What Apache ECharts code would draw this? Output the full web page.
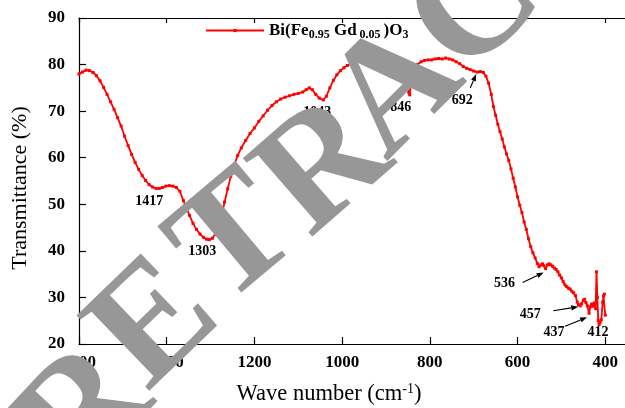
<!DOCTYPE html>
<html>
<head>
<meta charset="utf-8">
<script src="https://cdn.jsdelivr.net/npm/echarts@6/dist/echarts.min.js"></script>
<style>
  html, body { margin: 0; padding: 0; background: #fff; }
  #main { width: 625px; height: 408px; }
</style>
</head>
<body>
<div id="main"></div>
<script>
// FTIR spectrum of Bi(Fe0.95Gd0.05)O3
const wavenumber = [
  1600, 1592, 1584, 1576, 1568, 1560, 1552, 1544, 1536, 1528, 1520, 1512, 1504, 1496, 1488,
  1480, 1472, 1464, 1456, 1448, 1440, 1432, 1424, 1417, 1410, 1402, 1394, 1386, 1378, 1370,
  1362, 1355, 1348, 1340, 1332, 1324, 1316, 1309, 1303, 1296, 1289, 1282, 1275, 1268, 1261,
  1254, 1246, 1238, 1230, 1220, 1210, 1200, 1190, 1180, 1170, 1160, 1150, 1140, 1130, 1120,
  1110, 1100, 1090, 1082, 1075, 1068, 1060, 1052, 1043, 1036, 1028, 1020, 1012, 1004, 996,
  988, 980, 970, 960, 950, 940, 930, 920, 910, 900, 890, 880, 870, 862, 854,
  848, 846, 842, 836, 828, 820, 812, 804, 796, 788, 780, 772, 764, 756, 748,
  740, 732, 724, 716, 708, 700, 692, 685, 678, 672, 666, 660, 655, 650, 645,
  640, 635, 630, 625, 620, 615, 610, 605, 600, 595, 590, 585, 580, 575, 570,
  565, 560, 555, 551, 547, 543, 540, 536, 532, 528, 524, 520, 516, 512, 508,
  504, 500, 496, 492, 488, 484, 480, 476, 472, 468, 464, 461, 457, 454, 450,
  447, 444, 441, 437, 434, 431, 428, 425, 422, 420, 418, 416, 414, 412, 409,
  406, 404, 402, 400
];
const transmittance = [
  78.0, 78.4, 78.8, 78.7, 78.3, 77.6, 76.5, 75.1, 73.6, 72.0, 70.4, 68.6, 66.8, 64.6, 62.6,
  60.7, 59.0, 57.5, 56.2, 55.1, 54.2, 53.7, 53.4, 53.4, 53.6, 53.9, 54.0, 53.9, 53.6, 52.8,
  50.8, 49.2, 47.6, 45.9, 44.6, 43.6, 42.9, 42.5, 42.4, 42.7, 43.6, 45.2, 47.6, 50.5, 53.3,
  56.0, 58.5, 60.5, 62.1, 63.7, 65.2, 66.4, 67.8, 69.0, 70.2, 71.2, 72.0, 72.6, 73.0, 73.3,
  73.6, 73.8, 74.1, 74.6, 75.0, 74.6, 73.6, 72.8, 72.4, 73.2, 75.0, 76.6, 77.8, 78.7, 79.3,
  79.8, 80.2, 80.6, 80.8, 81.0, 81.1, 81.1, 81.2, 81.2, 81.1, 81.0, 81.0, 80.8, 80.4, 78.5,
  74.0, 73.5, 76.5, 79.2, 80.0, 80.6, 80.9, 81.0, 81.0, 81.2, 81.3, 81.2, 81.4, 81.2, 81.0,
  80.6, 80.2, 79.6, 79.2, 78.9, 78.6, 78.4, 78.5, 78.3, 77.5, 76.0, 73.6, 71.0, 69.1, 67.2,
  65.6, 64.0, 62.3, 60.8, 59.4, 57.6, 55.6, 53.7, 51.6, 49.8, 48.2, 46.2, 44.6, 42.6, 40.9,
  39.6, 38.5, 37.3, 36.6, 37.0, 37.2, 36.8, 36.2, 37.0, 37.2, 37.0, 36.7, 36.3, 36.0, 35.5,
  34.8, 34.2, 33.4, 32.7, 32.3, 32.0, 31.8, 31.3, 31.0, 30.4, 29.0, 28.4, 28.2, 28.6, 29.4,
  29.6, 28.9, 28.2, 26.6, 28.0, 28.6, 28.1, 28.8, 27.6, 35.5, 30.0, 25.0, 24.2, 24.6, 25.2,
  29.0, 30.3, 30.7, 26.2
];
const xTickValues = [400, 600, 800, 1000, 1200, 1400, 1600];
const peakWave = [1417, 1303, 1043, 846, 692, 536, 457, 437, 412];
const stampText = 'RETRACTED';

const serif = '"Liberation Serif", "Times New Roman", Times, serif';
const axisBlack = { color: '#000', width: 1.2 };

const option = {
  animation: false,
  backgroundColor: '#fff',
  grid: { left: 79, top: 18, width: 548, height: 326, containLabel: false },
  legend: {
    left: 205, top: 22, padding: 0,
    itemWidth: 58, itemHeight: 4,
    data: ['BGFO'],
    formatter: () => '{b|Bi(Fe}{s|0.95}{b| Gd}{s| 0.05 }{b|)O}{s|3}',
    textStyle: {
      rich: {
        b: { fontFamily: serif, fontWeight: 'bold', fontSize: 17, lineHeight: 20, color: '#000' },
        s: { fontFamily: serif, fontWeight: 'bold', fontSize: 12, lineHeight: 10, verticalAlign: 'bottom', color: '#000' }
      }
    }
  },
  xAxis: [
    {
      type: 'value', inverse: true, min: 355, max: 1600, position: 'bottom',
      axisLine: { show: true, onZero: false, lineStyle: axisBlack },
      axisTick: { show: true, inside: true, length: 7, customValues: xTickValues, lineStyle: axisBlack },
      axisLabel: {
        show: true, customValues: xTickValues, margin: 10,
        formatter: v => String(v),
        fontFamily: serif, fontWeight: 'bold', fontSize: 17, color: '#000'
      },
      splitLine: { show: false }
    },
    {
      type: 'value', inverse: true, min: 355, max: 1600, position: 'top',
      axisLine: { show: true, onZero: false, lineStyle: axisBlack },
      axisTick: { show: true, inside: true, length: 5, customValues: xTickValues, lineStyle: axisBlack },
      axisLabel: { show: false },
      splitLine: { show: false }
    }
  ],
  yAxis: {
    type: 'value', min: 20, max: 90, interval: 10,
    axisLine: { show: true, onZero: false, lineStyle: axisBlack },
    axisTick: { show: true, inside: true, length: 7, lineStyle: axisBlack },
    axisLabel: { margin: 14, fontFamily: serif, fontWeight: 'bold', fontSize: 17, color: '#000' },
    splitLine: { show: false }
  },
  series: [{
    name: 'BGFO',
    type: 'line',
    data: wavenumber.map((w, i) => [w, transmittance[i]]),
    showAllSymbol: true,
    symbol: 'rect',
    symbolSize: 3,
    color: '#ff0000',
    itemStyle: { color: '#ff0000' },
    lineStyle: { color: '#ff0000', width: 1.8 },
    z: 3
  }]
};

const chart = echarts.init(document.getElementById('main'), null, { renderer: 'canvas' });
chart.setOption(option);

// peak annotations placed relative to their points on the curve
const labelShift = {
  1417: [-10, 13], 1303: [-7, 12], 1043: [-6, 12], 846: [-9, 13], 692: [-15, 28],
  536: [-41, 15], 457: [-50, 9], 437: [-35, 19], 412: [-2, 10]
};
const arrowShift = {
  692: [[-7, 16], [-1, 2]],
  536: [[-23, 14], [-2, 4]],
  457: [[-27, 5], [-2, 1]],
  437: [[-24, 13], [-2, 4]]
};

const graphics = [];
peakWave.forEach(w => {
  const p = chart.convertToPixel({ seriesIndex: 0 }, [w, transmittance[wavenumber.indexOf(w)]]);
  const s = labelShift[w];
  graphics.push({
    type: 'text', x: p[0] + s[0], y: p[1] + s[1], z: 50,
    style: { text: String(w), fill: '#000', font: 'bold 14px ' + serif, align: 'center', verticalAlign: 'middle' }
  });
  const a = arrowShift[w];
  if (a) {
    const x1 = p[0] + a[0][0], y1 = p[1] + a[0][1];
    const x2 = p[0] + a[1][0], y2 = p[1] + a[1][1];
    const ang = Math.atan2(y2 - y1, x2 - x1);
    const L = 7, W = 2.6;
    const bx = x2 - L * Math.cos(ang), by = y2 - L * Math.sin(ang);
    graphics.push({
      type: 'line', z: 50,
      shape: { x1: x1, y1: y1, x2: bx, y2: by },
      style: { stroke: '#000', lineWidth: 1.1 }
    });
    graphics.push({
      type: 'polygon', z: 50,
      shape: { points: [
        [x2, y2],
        [bx - W * Math.sin(ang), by + W * Math.cos(ang)],
        [bx + W * Math.sin(ang), by - W * Math.cos(ang)]
      ] },
      style: { fill: '#000' }
    });
  }
});

// axis titles
graphics.push({
  type: 'text', x: 20, y: 188, rotation: Math.PI / 2, z: 50,
  style: { text: 'Transmittance (%)', font: '22px ' + serif, fill: '#000', align: 'center', verticalAlign: 'middle' }
});
graphics.push({
  type: 'text', x: 329, y: 394, z: 50,
  style: {
    text: '{n|Wave number (cm}{u|-1}{n|)}',
    align: 'center', verticalAlign: 'middle',
    rich: {
      n: { fontFamily: serif, fontSize: 22.5, lineHeight: 24, fill: '#000', color: '#000' },
      u: { fontFamily: serif, fontSize: 14, lineHeight: 12, verticalAlign: 'top', fill: '#000', color: '#000' }
    }
  }
});

// stamp letters laid along a gently curving diagonal: [x, y, angle in degrees]
const stampPlaces = [
  [87, 416, 47], [157, 326, 44], [237, 242, 40], [326, 170, 41], [398, 92, 45],
  [477, 10, 42], [565, -72, 40], [650, -152, 40], [735, -232, 40]
];
stampText.split('').forEach((ch, i) => {
  const s = stampPlaces[i];
  graphics.push({
    type: 'text', z: 100,
    x: s[0], y: s[1],
    rotation: s[2] * Math.PI / 180,
    style: { text: ch, fill: '#979797', font: 'bold 160px ' + serif, align: 'center', verticalAlign: 'middle' }
  });
});

chart.setOption({ graphic: graphics });
</script>
</body>
</html>
